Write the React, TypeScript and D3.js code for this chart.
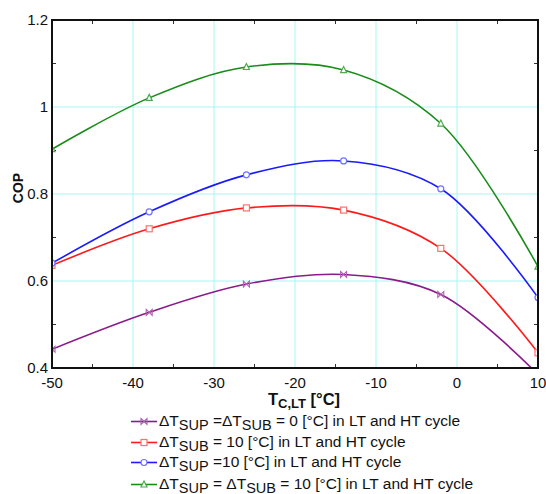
import React from "react";
import * as d3 from "d3";

const temps = [-50, -38, -26, -14, -2, 10];
const copBase = [0.443, 0.528, 0.593, 0.615, 0.569, 0.385];
const copSub = [0.636, 0.72, 0.768, 0.763, 0.675, 0.435];
const copSup = [0.641, 0.759, 0.844, 0.876, 0.812, 0.562];
const copBoth = [0.903, 1.021, 1.092, 1.085, 0.962, 0.633];
const xTicks = [-50, -40, -30, -20, -10, 0, 10];
const yTicks = [0.4, 0.6, 0.8, 1, 1.2];
const xMinor = [-45, -35, -25, -15, -5, 5];
const yMinor = [0.5, 0.7, 0.9, 1.1];

type Series = { values: number[]; color: string; mcolor: string; marker: string; legend: { t: string; sub?: boolean }[] };

const series: Series[] = [
  {
    values: copBase, color: "#8b1a8b", mcolor: "#b060b0", marker: "bow",
    legend: [{ t: "ΔT" }, { t: "SUP", sub: true }, { t: " =ΔT" }, { t: "SUB", sub: true }, { t: " = 0 [°C] in LT and HT cycle" }],
  },
  {
    values: copSub, color: "#ff1a1a", mcolor: "#ff7070", marker: "square",
    legend: [{ t: "ΔT" }, { t: "SUB", sub: true }, { t: " = 10 [°C] in LT and HT cycle" }],
  },
  {
    values: copSup, color: "#1a1aff", mcolor: "#7070ff", marker: "circle",
    legend: [{ t: "ΔT" }, { t: "SUP", sub: true }, { t: " =10 [°C] in LT and HT cycle" }],
  },
  {
    values: copBoth, color: "#1a8c1a", mcolor: "#50a850", marker: "triangle",
    legend: [{ t: "ΔT" }, { t: "SUP", sub: true }, { t: " = ΔT" }, { t: "SUB", sub: true }, { t: " = 10 [°C] in LT and HT cycle" }],
  },
];

const L = 52, R = 538, T = 20, B = 368;
const x = d3.scaleLinear().domain([-50, 10]).range([L, R]);
const y = d3.scaleLinear().domain([0.4, 1.2]).range([B, T]);

function Marker({ kind, cx, cy, color }: { kind: string; cx: number; cy: number; color: string }) {
  const s = 3;
  if (kind === "square") return <rect x={cx - s} y={cy - s} width={2 * s} height={2 * s} fill="white" stroke={color} strokeWidth={1.2} />;
  if (kind === "circle") return <circle cx={cx} cy={cy} r={s} fill="white" stroke={color} strokeWidth={1.2} />;
  if (kind === "triangle")
    return <path d={`M${cx},${cy - s - 0.5}L${cx + s},${cy + s - 0.5}L${cx - s},${cy + s - 0.5}Z`} fill="white" stroke={color} strokeWidth={1.2} />;
  return <path d={`M${cx - s},${cy - s}L${cx + s},${cy + s}L${cx + s},${cy - s}L${cx - s},${cy + s}Z`} fill="none" stroke={color} strokeWidth={1.1} />;
}

export default function App() {
  const line = d3.line<number>().x((_, i) => x(temps[i])).y((d) => y(d)).curve(d3.curveCatmullRom.alpha(0.5));
  const legendY = [421.5, 442.5, 462.5, 484.5];
  return (
    <svg width={546} height={494} style={{ position: "absolute", left: 0, top: 0, background: "white" }} fontFamily="Liberation Sans, Arial, sans-serif">
      <defs>
        <clipPath id="plot"><rect x={L} y={T} width={R - L} height={B - T} /></clipPath>
      </defs>
      <rect x={0} y={0} width={546} height={494} fill="white" />
      {xTicks.map((t) => (
        <line key={"gx" + t} x1={x(t)} x2={x(t)} y1={T} y2={B} stroke="#a8f4f4" strokeWidth={1} />
      ))}
      {yTicks.map((t) => (
        <line key={"gy" + t} x1={L} x2={R} y1={y(t)} y2={y(t)} stroke="#a8f4f4" strokeWidth={1} />
      ))}
      {xMinor.map((t) => (
        <g key={"mx" + t}>
          <line x1={x(t)} x2={x(t)} y1={B} y2={B - 4} stroke="#333" />
          <line x1={x(t)} x2={x(t)} y1={T} y2={T + 4} stroke="#333" />
        </g>
      ))}
      {yMinor.map((t) => (
        <g key={"my" + t}>
          <line x1={L} x2={L + 4} y1={y(t)} y2={y(t)} stroke="#333" />
          <line x1={R} x2={R - 4} y1={y(t)} y2={y(t)} stroke="#333" />
        </g>
      ))}
      <g clipPath="url(#plot)">
        {series.map((s, i) => (
          <g key={"s" + i}>
            <path d={line(s.values) || ""} fill="none" stroke={s.color} strokeWidth={1.6} />
            {s.values.map((v, j) => (
              <Marker key={j} kind={s.marker} cx={x(temps[j])} cy={y(v)} color={s.mcolor} />
            ))}
          </g>
        ))}
      </g>
      <rect x={L} y={T} width={R - L} height={B - T} fill="none" stroke="#111" strokeWidth={2} />
      {xTicks.map((t) => (
        <text key={"tx" + t} x={x(t)} y={388} textAnchor="middle" fontSize={15} fill="#111">{t}</text>
      ))}
      {yTicks.map((t) => (
        <text key={"ty" + t} x={48} y={y(t) + 5} textAnchor="end" fontSize={15} fill="#111">{String(t)}</text>
      ))}
      <text transform="translate(23,188) rotate(-90)" textAnchor="middle" fontSize={14} fontWeight="bold" fill="#111">COP</text>
      <text x={268} y={405} fontSize={16.5} fontWeight="bold" fill="#111">
        T<tspan fontSize={13} dy={3}>C,LT</tspan><tspan dy={-3}> [°C]</tspan>
      </text>
      {series.map((s, i) => {
        const ly = legendY[i];
        return (
          <g key={"lg" + i}>
            <line x1={131} x2={157} y1={ly} y2={ly} stroke={s.color} strokeWidth={1.6} />
            <Marker kind={s.marker} cx={144} cy={ly} color={s.mcolor} />
            <text x={159} y={ly + 4.5} fontSize={15.5} fill="#111">
              {s.legend.map((p, k) => (
                <tspan key={k} fontSize={p.sub ? 14.5 : 15.5} dy={p.sub ? 4 : k > 0 && s.legend[k - 1].sub ? -4 : 0}>{p.t}</tspan>
              ))}
            </text>
          </g>
        );
      })}
    </svg>
  );
}
